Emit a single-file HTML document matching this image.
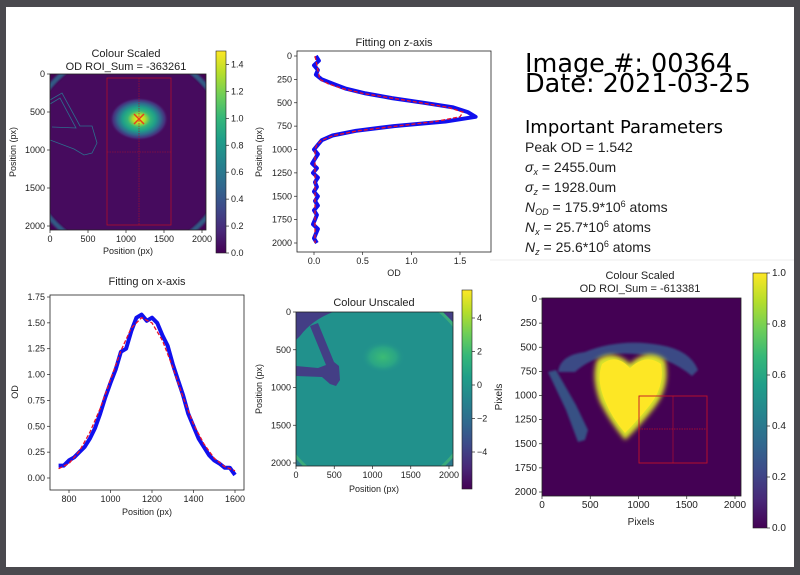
<!DOCTYPE html>
<html><head><meta charset="utf-8">
<style>
html,body{margin:0;padding:0;background:#4a494e;}
#wrap{position:relative;width:800px;height:575px;overflow:hidden;background:#4a494e;}
svg{position:absolute;left:0;top:0;font-family:"Liberation Sans","DejaVu Sans",sans-serif;}
text{fill:#222;}
</style></head>
<body>
<div id="wrap">
<svg id="fig" width="800" height="575" viewBox="0 0 800 575">
<defs>
<linearGradient id="vir" x1="0" y1="1" x2="0" y2="0">
<stop offset="0" stop-color="#440154"/><stop offset="0.11" stop-color="#482878"/><stop offset="0.22" stop-color="#3e4989"/><stop offset="0.33" stop-color="#31688e"/><stop offset="0.44" stop-color="#26828e"/><stop offset="0.56" stop-color="#1f9e89"/><stop offset="0.67" stop-color="#35b779"/><stop offset="0.78" stop-color="#6ece58"/><stop offset="0.89" stop-color="#b5de2b"/><stop offset="1" stop-color="#fde725"/>
</linearGradient>
<radialGradient id="blob1" cx="0.5" cy="0.5" r="0.5">
<stop offset="0" stop-color="#fde725"/><stop offset="0.2" stop-color="#b5de2b"/><stop offset="0.38" stop-color="#35b779"/><stop offset="0.55" stop-color="#1f9e89"/><stop offset="0.72" stop-color="#31688e"/><stop offset="0.87" stop-color="#472d7b"/><stop offset="1" stop-color="#440154" stop-opacity="0"/>
</radialGradient>
<radialGradient id="blob4" cx="0.5" cy="0.5" r="0.5">
<stop offset="0" stop-color="#3bbb75"/><stop offset="0.6" stop-color="#2aa585"/><stop offset="1" stop-color="#21918c" stop-opacity="0"/>
</radialGradient>
<filter id="blur2"><feGaussianBlur stdDeviation="2.5"/></filter>
<filter id="blur1"><feGaussianBlur stdDeviation="1"/></filter>
<clipPath id="c1"><rect x="50" y="74" width="156" height="156"/></clipPath>
<clipPath id="c4"><rect x="296" y="312" width="157" height="154"/></clipPath>
<clipPath id="c5"><rect x="542" y="298" width="199" height="198"/></clipPath>
</defs>
<rect x="6" y="7" width="788" height="560" fill="#ffffff"/>

<!-- Panel 1 -->
<g>
<text x="126" y="57" font-size="11" text-anchor="middle">Colour Scaled</text>
<text x="126" y="70" font-size="11" text-anchor="middle">OD ROI_Sum = -363261</text>
<g clip-path="url(#c1)">
<rect x="50" y="74" width="156" height="156" fill="#440154"/>
<circle cx="128" cy="152" r="102" fill="none" stroke="#2e6c8e" stroke-width="5" opacity="0.85" filter="url(#blur1)"/>
<circle cx="128" cy="152" r="98" fill="#460b5e"/>
<path d="M50 100 L62 93 L80 126 L92 126 L97 143 L92 153 L84 155 L74 149 L50 140" fill="none" stroke="#2d6f8e" stroke-width="0.8"/>
<path d="M50 104 L60 98 L76 128 L52 127" fill="none" stroke="#2d6f8e" stroke-width="0.8"/>
<ellipse cx="139" cy="119" rx="30" ry="22" fill="url(#blob1)"/>
<rect x="107" y="78" width="64" height="147" fill="none" stroke="#b0102a" stroke-width="0.8"/>
<line x1="139" y1="78" x2="139" y2="225" stroke="#b0102a" stroke-width="0.6" stroke-dasharray="1.5,1"/>
<line x1="107" y1="152" x2="171" y2="152" stroke="#b0102a" stroke-width="0.6" stroke-dasharray="1.5,1"/>
<path d="M134 114 L144 124 M144 114 L134 124" stroke="#e8401c" stroke-width="1.5"/>
</g>
<rect x="50" y="74" width="156" height="156" fill="none" stroke="#222" stroke-width="0.8"/>
<g id="ax1"></g>
<text x="128" y="254" font-size="9" text-anchor="middle">Position (px)</text>
<text transform="translate(16,152) rotate(-90)" font-size="9" text-anchor="middle">Position (px)</text>
<rect x="216" y="51" width="10" height="202" fill="url(#vir)" stroke="#222" stroke-width="0.6"/>
<g id="cb1"></g>
</g>

<!-- Panel 2 -->
<g>
<text x="394" y="46" font-size="11" text-anchor="middle">Fitting on z-axis</text>
<rect x="297" y="51" width="194" height="201" fill="#fff" stroke="#222" stroke-width="0.8"/>
<g id="zplot"></g>
<text x="394" y="276" font-size="9" text-anchor="middle">OD</text>
<text transform="translate(262,152) rotate(-90)" font-size="9" text-anchor="middle">Position (px)</text>
</g>

<!-- Text block -->
<g>
<text x="525" y="72" font-size="25.5" font-family="DejaVu Sans, sans-serif" style="fill:#000">Image #: 00364</text>
<text x="525" y="92" font-size="25.5" font-family="DejaVu Sans, sans-serif" style="fill:#000">Date: 2021-03-25</text>
<text x="525" y="133" font-size="18" font-family="DejaVu Sans, sans-serif" style="fill:#000">Important Parameters</text>
<g font-size="14" style="fill:#000">
<text x="525" y="152">Peak OD = 1.542</text>
<text x="525" y="172"><tspan font-style="italic">σ</tspan><tspan font-size="9" dy="3" font-style="italic">x</tspan><tspan dy="-3"> = 2455.0um</tspan></text>
<text x="525" y="192"><tspan font-style="italic">σ</tspan><tspan font-size="9" dy="3" font-style="italic">z</tspan><tspan dy="-3"> = 1928.0um</tspan></text>
<text x="525" y="212"><tspan font-style="italic">N</tspan><tspan font-size="9" dy="3" font-style="italic">OD</tspan><tspan dy="-3"> = 175.9*10</tspan><tspan font-size="9" dy="-5">6</tspan><tspan dy="5"> atoms</tspan></text>
<text x="525" y="232"><tspan font-style="italic">N</tspan><tspan font-size="9" dy="3" font-style="italic">x</tspan><tspan dy="-3"> =  25.7*10</tspan><tspan font-size="9" dy="-5">6</tspan><tspan dy="5"> atoms</tspan></text>
<text x="525" y="252"><tspan font-style="italic">N</tspan><tspan font-size="9" dy="3" font-style="italic">z</tspan><tspan dy="-3"> =  25.6*10</tspan><tspan font-size="9" dy="-5">6</tspan><tspan dy="5"> atoms</tspan></text>
</g>
</g>

<!-- Panel 3 -->
<g>
<text x="147" y="285" font-size="11" text-anchor="middle">Fitting on x-axis</text>
<rect x="50" y="295" width="194" height="195" fill="#fff" stroke="#222" stroke-width="0.8"/>
<g id="xplot"></g>
<text x="147" y="515" font-size="9" text-anchor="middle">Position (px)</text>
<text transform="translate(18,392) rotate(-90)" font-size="9" text-anchor="middle">OD</text>
</g>

<!-- Panel 4 -->
<g>
<text x="374" y="306" font-size="11" text-anchor="middle">Colour Unscaled</text>
<g clip-path="url(#c4)">
<rect x="296" y="312" width="157" height="154" fill="#2a7a8e"/>
<circle cx="374" cy="390" r="104" fill="#3aab7c"/>
<circle cx="374" cy="390" r="101" fill="#21918c"/>
<ellipse cx="383" cy="357" rx="22" ry="16" fill="url(#blob4)"/>
<path d="M296 312 L333 312 Q312 320 300 336 L296 340 Z" fill="#433e85"/>
<path d="M310 326 L318 323 L334 362 L339 366 L340 380 L336 386 L330 384 L322 377 L296 376 L296 366 L318 368 L326 365 Z" fill="#433e85"/>
<path d="M443 312 L453 312 L453 322 Z" fill="#433e85"/>
</g>
<rect x="296" y="312" width="157" height="154" fill="none" stroke="#222" stroke-width="0.8"/>
<g id="ax4"></g>
<text x="374" y="492" font-size="9" text-anchor="middle">Position (px)</text>
<text transform="translate(262,389) rotate(-90)" font-size="9" text-anchor="middle">Position (px)</text>
<rect x="462" y="290" width="10" height="199" fill="url(#vir)" stroke="#222" stroke-width="0.6"/>
<g id="cb4"></g>
</g>

<!-- Panel 5 -->
<g>
<line x1="490" y1="260" x2="794" y2="260" stroke="#eee" stroke-width="1"/>
<text x="640" y="279" font-size="11" text-anchor="middle">Colour Scaled</text>
<text x="640" y="292" font-size="11" text-anchor="middle">OD ROI_Sum = -613381</text>
<g clip-path="url(#c5)">
<rect x="542" y="298" width="199" height="198" fill="#440154"/>
<path d="M558 372 Q560 355 585 352 Q620 338 660 345 Q690 350 698 370 L692 376 Q680 366 665 360 Q640 352 615 354 Q590 358 575 372 Z" fill="#3b528b" opacity="0.9" filter="url(#blur1)"/>
<path d="M548 372 L556 370 L576 405 L588 430 L585 440 L578 442 L566 410 Z" fill="#355f8d" opacity="0.85" filter="url(#blur1)"/>
<path d="M597 360 Q613 348 630 364 Q648 347 665 360 Q671 386 654 408 Q640 426 625 440 Q610 422 600 402 Q591 378 597 360 Z" fill="#d8e22a" filter="url(#blur2)"/>
<path d="M602 364 Q616 353 630 368 Q646 353 661 364 Q665 386 650 405 Q638 420 625 433 Q612 418 605 401 Q596 380 602 364 Z" fill="#fde725"/>
<rect x="639" y="396" width="68" height="67" fill="none" stroke="#c0102a" stroke-width="0.9"/>
<line x1="673" y1="396" x2="673" y2="463" stroke="#c0102a" stroke-width="0.6"/>
<line x1="639" y1="429" x2="707" y2="429" stroke="#c0102a" stroke-width="0.7" stroke-dasharray="1.5,1"/>
</g>
<rect x="542" y="298" width="199" height="198" fill="none" stroke="#222" stroke-width="0.8"/>
<g id="ax5"></g>
<text x="641" y="525" font-size="10" text-anchor="middle">Pixels</text>
<text transform="translate(502,397) rotate(-90)" font-size="10" text-anchor="middle">Pixels</text>
<rect x="753" y="273" width="14" height="255" fill="url(#vir)" stroke="#222" stroke-width="0.6"/>
<g id="cb5"></g>
</g>
</svg>
</div>
<script>
const zPositions=[0,50,100,150,200,250,300,350,400,450,500,550,600,650,700,750,800,850,900,950,1000,1050,1100,1150,1200,1250,1300,1350,1400,1450,1500,1550,1600,1650,1700,1750,1800,1850,1900,1950,2000];
const zOD=[0.02,0.05,0.0,0.04,0.02,0.08,0.2,0.33,0.53,0.8,1.13,1.43,1.58,1.66,1.35,0.82,0.43,0.19,0.08,0.04,0.0,0.04,0.01,-0.02,0.03,-0.01,0.04,0.01,0.03,0.0,0.04,0.01,0.04,0.0,0.03,0.01,-0.01,0.04,0.02,0.0,0.03];
const zFitPositions=[0,250,300,350,400,450,500,550,600,650,700,750,800,850,900,950,1000,2000];
const zFitOD=[0.01,0.06,0.15,0.3,0.5,0.8,1.1,1.38,1.53,1.5,1.25,0.85,0.45,0.2,0.08,0.03,0.01,0.01];
const xPositions=[750,775,800,825,850,875,900,925,950,975,1000,1025,1050,1075,1100,1125,1150,1175,1200,1225,1250,1275,1300,1325,1350,1375,1400,1425,1450,1475,1500,1525,1550,1575,1600];
const xOD=[0.12,0.12,0.17,0.2,0.25,0.3,0.38,0.48,0.62,0.78,0.92,1.05,1.22,1.25,1.42,1.55,1.58,1.52,1.55,1.5,1.38,1.28,1.1,0.95,0.8,0.62,0.5,0.38,0.3,0.22,0.17,0.14,0.1,0.1,0.03];
const xFitPositions=[750,800,850,900,950,1000,1050,1100,1150,1200,1250,1300,1350,1400,1450,1500,1550,1600];
const xFitOD=[0.09,0.14,0.26,0.44,0.67,0.95,1.23,1.45,1.55,1.5,1.33,1.07,0.78,0.52,0.33,0.19,0.11,0.07];
const imgTicks=[0,500,1000,1500,2000];
const zYTicks=[0,250,500,750,1000,1250,1500,1750,2000];
const zXTicks=[0.0,0.5,1.0,1.5];
const xXTicks=[800,1000,1200,1400,1600];
const xYTicks=[0,0.25,0.5,0.75,1.0,1.25,1.5,1.75];
const cb1Ticks=[0.0,0.2,0.4,0.6,0.8,1.0,1.2,1.4];
const cb4Ticks=[-4,-2,0,2,4];
const cb5Ticks=[0.0,0.2,0.4,0.6,0.8,1.0];
const pix5Ticks=[0,250,500,750,1000,1250,1500,1750,2000];

const NS='http://www.w3.org/2000/svg';
function mk(tag,attrs,parent){const e=document.createElementNS(NS,tag);for(const k in attrs)e.setAttribute(k,attrs[k]);parent.appendChild(e);return e;}
function lin(d0,d1,r0,r1){return v=>r0+(v-d0)*(r1-r0)/(d1-d0);}
function tickLabel(g,x,y,txt,anchor,fs){const t=mk('text',{x:x,y:y,'font-size':fs||9,'text-anchor':anchor},g);t.textContent=txt;


return t;}
function xTicks(g,ticks,sx,yAxis,fmt,fs){ticks.forEach(v=>{const x=sx(v);mk('line',{x1:x,y1:yAxis,x2:x,y2:yAxis+3,stroke:'#222','stroke-width':0.7},g);tickLabel(g,x,yAxis+12,fmt(v),'middle',fs);});}
function yTicks(g,ticks,sy,xAxis,fmt,fs){ticks.forEach(v=>{const y=sy(v);mk('line',{x1:xAxis-3,y1:y,x2:xAxis,y2:y,stroke:'#222','stroke-width':0.7},g);tickLabel(g,xAxis-5,y+3,fmt(v),'end',fs);});}
function cbTicks(g,ticks,sy,xRight,fmt,fs){ticks.forEach(v=>{const y=sy(v);mk('line',{x1:xRight,y1:y,x2:xRight+3,y2:y,stroke:'#222','stroke-width':0.7},g);tickLabel(g,xRight+5,y+3,fmt(v).replace('-','\u2212'),'start',fs);});}
const f0=v=>String(v), f1=v=>v.toFixed(1), f2=v=>v.toFixed(2);

{const g=document.getElementById('ax1');const sx=lin(0,2000,50,202),sy=lin(0,2000,74,226);
xTicks(g,imgTicks,sx,230,f0);yTicks(g,imgTicks,sy,50,f0);
cbTicks(document.getElementById('cb1'),cb1Ticks,lin(0,1.5,253,51),226,f1);}

{const g=document.getElementById('zplot');const sx=lin(0,1.5,314,460),sy=lin(0,2000,56,243);
const pts=zPositions.map((p,i)=>sx(zOD[i]).toFixed(1)+','+sy(p).toFixed(1)).join(' ');
const pl=mk('polyline',{points:pts,fill:'none',stroke:'#1010ee','stroke-width':4,'stroke-linejoin':'round'},g);


const fp=zFitPositions.map((p,i)=>sx(zFitOD[i]).toFixed(1)+','+sy(p).toFixed(1)).join(' ');
const fl=mk('polyline',{points:fp,fill:'none',stroke:'#e8102a','stroke-width':1.3,'stroke-dasharray':'4,2'},g);


xTicks(g,zXTicks,sx,252,f1);yTicks(g,zYTicks,sy,297,f0);}

{const g=document.getElementById('xplot');const sx=lin(800,1600,69,235),sy=lin(0,1.75,478,297);
const pts=xPositions.map((p,i)=>sx(p).toFixed(1)+','+sy(xOD[i]).toFixed(1)).join(' ');
const pl=mk('polyline',{points:pts,fill:'none',stroke:'#1010ee','stroke-width':4,'stroke-linejoin':'round'},g);


const fp=xFitPositions.map((p,i)=>sx(p).toFixed(1)+','+sy(xFitOD[i]).toFixed(1)).join(' ');
const fl=mk('polyline',{points:fp,fill:'none',stroke:'#e8102a','stroke-width':1.3,'stroke-dasharray':'4,2'},g);


xTicks(g,xXTicks,sx,490,f0);yTicks(g,xYTicks,sy,50,f2);}

{const g=document.getElementById('ax4');const sx=lin(0,2000,296,449),sy=lin(0,2000,312,463);
xTicks(g,imgTicks,sx,466,f0);yTicks(g,imgTicks,sy,296,f0);
cbTicks(document.getElementById('cb4'),cb4Ticks,lin(-4,4,452,318),472,f0);}

{const g=document.getElementById('ax5');const sx=lin(0,2000,542,735),sy=lin(0,2000,299,492);
xTicks(g,imgTicks,sx,496,f0,10);yTicks(g,pix5Ticks,sy,542,f0,10);
cbTicks(document.getElementById('cb5'),cb5Ticks,lin(0,1,528,273),767,f1,10);}
</script>
</body></html>
